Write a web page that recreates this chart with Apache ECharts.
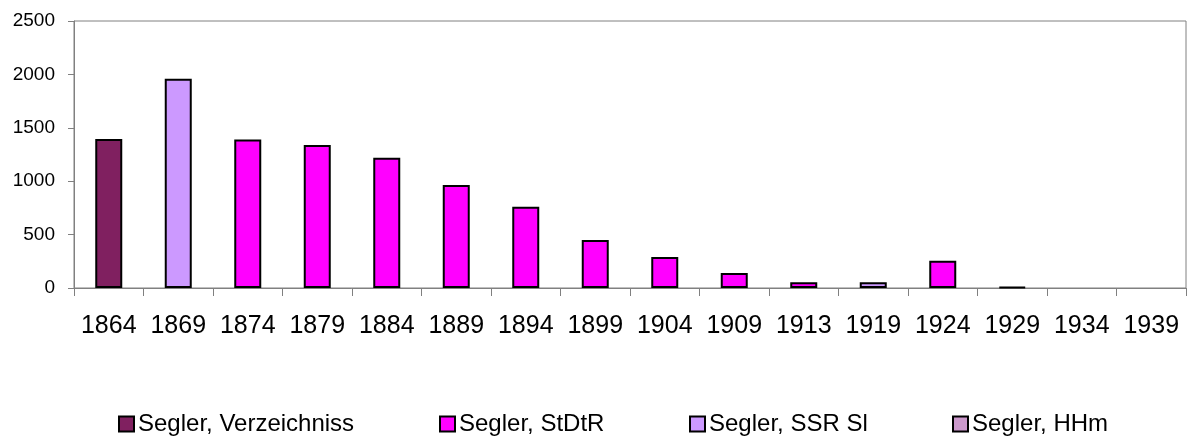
<!DOCTYPE html>
<html>
<head>
<meta charset="utf-8">
<script src="https://cdn.jsdelivr.net/npm/echarts@6/dist/echarts.min.js"></script>
<style>
html,body{margin:0;padding:0;background:#fff;}
#mainarea{width:1188px;height:437px;}
</style>
</head>
<body>
<div id="mainarea"></div>
<script>
var years=['1864','1869','1874','1879','1884','1889','1894','1899','1904','1909','1913','1919','1924','1929','1934','1939'];
var verzeichniss=[1395,null,null,null,null,null,null,null,null,null,null,null,null,null,null,null];
var stdtr=[null,null,1390,1340,1220,965,760,450,290,140,53,null,255,10,null,null];
var ssrsl=[null,1960,null,null,null,null,null,null,null,null,null,53,null,null,null,null];
var hhm=[null,null,null,null,null,null,null,null,null,null,null,null,null,null,null,null];

var myChart=echarts.init(document.getElementById('mainarea'));
var font='"Liberation Sans", Arial, sans-serif';

function mkSeries(name,data,color){
  return {
    name:name,
    type:'bar',
    stack:'all',
    data:data,
    barWidth:27,
    itemStyle:{color:color,borderColor:'#000',borderWidth:2}
  };
}
// one legend block per entry, spaced like the original
function mkLegend(name,left){
  return {
    data:[{name:name,icon:'rect'}],
    left:left,
    top:412,
    padding:0,
    itemWidth:15,
    itemHeight:15,
    itemGap:0,
    textStyle:{fontFamily:font,fontSize:24,color:'#000',padding:[0,0,0,-1]},
    itemStyle:{borderColor:'#000',borderWidth:2},
    selectedMode:false
  };
}

var option={
  backgroundColor:'#fff',
  animation:false,
  legend:[
    mkLegend('Segler, Verzeichniss',118),
    mkLegend('Segler, StDtR',439),
    mkLegend('Segler, SSR Sl',689),
    mkLegend('Segler, HHm',952)
  ],
  grid:{
    left:74,right:2,top:21,bottom:149,
    show:true,borderColor:'#808080',borderWidth:1
  },
  xAxis:{
    type:'category',
    data:years,
    boundaryGap:true,
    axisLine:{lineStyle:{color:'#808080',width:1}},
    axisTick:{show:true,alignWithLabel:false,length:8,lineStyle:{color:'#808080'}},
    axisLabel:{fontFamily:font,fontSize:25,color:'#000',margin:26,interval:0}
  },
  yAxis:{
    type:'value',
    min:0,max:2500,interval:500,
    axisLine:{show:true,lineStyle:{color:'#808080'}},
    axisTick:{show:true,length:6,lineStyle:{color:'#808080'}},
    splitLine:{show:false},
    axisLabel:{fontFamily:font,fontSize:19,color:'#000',margin:19,formatter:function(v){return String(v);}}
  },
  series:[
    mkSeries('Segler, Verzeichniss',verzeichniss,'#802060'),
    mkSeries('Segler, StDtR',stdtr,'#ff00ff'),
    mkSeries('Segler, SSR Sl',ssrsl,'#cc99ff'),
    mkSeries('Segler, HHm',hhm,'#cc99cc')
  ]
};
myChart.setOption(option);
</script>
</body>
</html>
